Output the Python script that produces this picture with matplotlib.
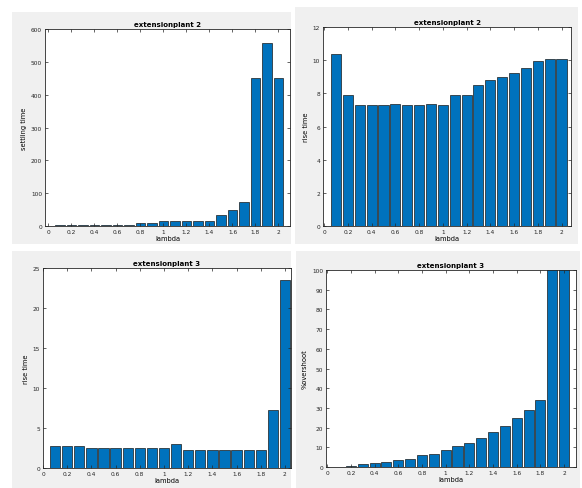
import numpy as np
import matplotlib
matplotlib.use("Agg")
import matplotlib.pyplot as plt
from matplotlib.patches import Rectangle

# lambda sweep values (x positions of the bars)
lam = [0.1, 0.2, 0.3, 0.4, 0.5, 0.6, 0.7, 0.8, 0.9, 1.0,
       1.1, 1.2, 1.3, 1.4, 1.5, 1.6, 1.7, 1.8, 1.9, 2.0]

# extensionplant 2
settling_p2 = [3, 4, 3, 3, 3, 3, 3, 8, 10, 15,
               15, 15, 15, 15, 35, 50, 72, 452, 558, 452]
rise_p2 = [10.4, 7.9, 7.3, 7.3, 7.3, 7.35, 7.3, 7.3, 7.35, 7.3,
           7.9, 7.9, 8.5, 8.8, 9.0, 9.2, 9.55, 9.95, 10.05, 10.05]

# extensionplant 3
rise_p3 = [2.7, 2.7, 2.7, 2.5, 2.5, 2.5, 2.5, 2.5, 2.5, 2.5,
           3.0, 2.2, 2.2, 2.2, 2.2, 2.3, 2.2, 2.3, 7.3, 23.5]
overshoot_p3 = [0, 0.3, 1.4, 2.0, 2.5, 3.4, 4.2, 5.9, 6.8, 8.4,
                10.6, 12.3, 14.7, 17.7, 20.6, 24.8, 28.7, 34.1, 160, 210]

W, H = 582, 489
fig = plt.figure(figsize=(W / 100, H / 100), dpi=100, facecolor="white")

def px_box(x0, y0, x1, y1):
    return [x0 / W, 1 - y1 / H, (x1 - x0) / W, (y1 - y0) / H]

# grey figure windows behind each subplot
bg = fig.add_axes([0, 0, 1, 1], zorder=-10)
bg.set_xlim(0, W)
bg.set_ylim(H, 0)
bg.axis("off")
for x0, y0, x1, y1 in [(12, 13, 291, 245), (295, 8, 578, 245),
                       (12, 252, 291, 489), (296, 252, 580, 489)]:
    bg.add_patch(Rectangle((x0, y0), x1 - x0, y1 - y0,
                           facecolor="#f0f0f0", edgecolor="none"))

blue = "#0072BD"
fs = 4.2

def bar_panel(box, vals, title, ylabel, yticks, xlim):
    ax = fig.add_axes(px_box(*box))
    ax.bar(lam, vals, width=0.085, color=blue, edgecolor="#1a1a1a", linewidth=0.5)
    ax.set_xlim(*xlim)
    ax.set_ylim(yticks[0], yticks[-1])
    ax.set_xticks(np.round(np.arange(0, 2.01, 0.2), 1))
    ax.set_xticklabels(["0", "0.2", "0.4", "0.6", "0.8", "1", "1.2", "1.4", "1.6", "1.8", "2"])
    ax.set_yticks(yticks)
    ax.tick_params(direction="in", length=2, width=0.5, labelsize=fs, colors="#262626",
                   top=True, right=True, pad=2)
    for s in ax.spines.values():
        s.set_linewidth(0.6)
        s.set_color("#262626")
    ax.set_title(title, fontsize=5, fontweight="bold", pad=2)
    ax.set_ylabel(ylabel, fontsize=4.8, labelpad=3)
    ax.set_xlabel("lambda", fontsize=4.8, labelpad=1)
    return ax

bar_panel((45, 30, 290, 227), settling_p2, "extensionplant 2", "settling time",
          list(range(0, 601, 100)), (-0.03, 2.1))
bar_panel((323, 28, 571, 227), rise_p2, "extensionplant 2", "rise time",
          list(range(0, 13, 2)), (-0.01, 2.08))
bar_panel((43, 269, 291, 469), rise_p3, "extensionplant 3", "rise time",
          list(range(0, 26, 5)), (0, 2.05))
bar_panel((326, 271, 576, 468), overshoot_p3, "extensionplant 3", "%overshoot",
          list(range(0, 101, 10)), (-0.01, 2.1))

fig.savefig("out.png", dpi=100, facecolor=fig.get_facecolor())
